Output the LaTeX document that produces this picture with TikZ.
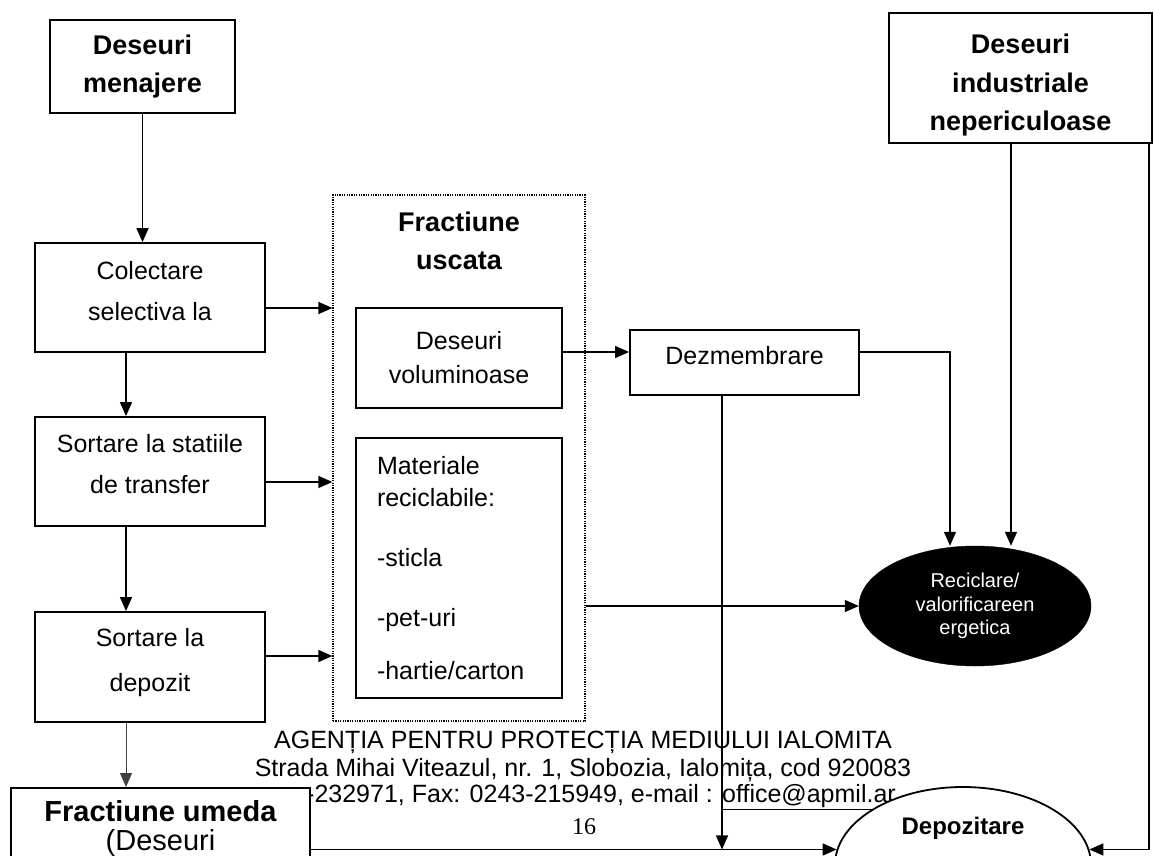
\documentclass[tikz,border=0pt]{standalone}
\usepackage{fontspec}
\setmainfont{Liberation Sans}
\newfontfamily\serifpg{Liberation Serif}
\usetikzlibrary{arrows.meta,shapes.geometric,calc}
\newcommand\lowstrut[1]{\rule[-#1]{0pt}{#1}}
\begin{document}
\begin{tikzpicture}[x=1pt,y=-1pt,
  box/.style={draw, line width=1.8pt, fill=white, align=center, inner sep=0pt, font=\fontsize{25}{41}\selectfont},
  tbox/.style={draw, line width=1.8pt, fill=white, align=center, inner sep=0pt, font=\bfseries\fontsize{27}{38}\selectfont},
  arr/.style={line width=1.5pt, -{Triangle[length=14pt,width=12pt]}},
  foot/.style={inner sep=0pt, font=\fontsize{25}{28}\selectfont},
]
\useasboundingbox[fill=white] (0,0) rectangle (1154,856);

% footer text (lies under the shapes)
\node[foot] (ft1) at (583,742) {AGENȚIA PENTRU PROTECȚIA MEDIULUI IALOMITA};
\node[foot] (ft2) at (583,770) {Strada Mihai Viteazul, nr. 1, Slobozia, Ialomița, cod 920083};
\node[foot, anchor=west] (ft3) at (306,797) {-232971, Fax: 0243-215949, e-mail : \underline{office@apmil.ar}};
\node[inner sep=0pt, font=\serifpg\fontsize{24}{24}\selectfont] (pg) at (584,827) {16};

% left column
\node[tbox, minimum width=185pt, minimum height=93pt] (dm) at (142.5,66.5) {Deseuri\\menajere};
\node[box, minimum width=230pt, minimum height=109pt] (col) at (150,297.5) {Colectare\\selectiva la\lowstrut{14pt}};
\node[box, minimum width=230pt, minimum height=109pt] (sst) at (150,471.5) {Sortare la statiile\\de transfer\lowstrut{15pt}};
\node[box, minimum width=230pt, minimum height=110pt, font=\fontsize{25}{45}\selectfont] (sdp) at (150,667) {Sortare la\\depozit\lowstrut{15pt}};
\node[draw, line width=1.8pt, fill=white, align=center, inner xsep=0pt, inner ysep=13pt,
      minimum width=299pt, anchor=north, font=\fontsize{29}{29}\selectfont] (fu) at (160.5,787)
      {\textbf{Fractiune umeda}\\(Deseuri};

% dry fraction group
\node[draw, line width=1.2pt, dash pattern=on 1.2pt off 1.2pt, minimum width=252pt, minimum height=526pt, inner sep=0pt] (usc) at (459,458) {};
\node[inner sep=0pt, align=center, font=\bfseries\fontsize{27}{38}\selectfont] (uscT) at (459,241) {Fractiune\\uscata};
\node[box, minimum width=206pt, minimum height=100pt, font=\fontsize{25}{34}\selectfont] (vol) at (459,358) {Deseuri\\voluminoase};
\node[draw, line width=1.8pt, fill=white, inner sep=0pt, minimum width=206pt, minimum height=260pt,
      text width=164pt, align=left, font=\fontsize{25}{32}\selectfont] (mat) at (459,568)
      {Materiale\\reciclabile:\\[28pt]-sticla\\[28pt]-pet-uri\\[21pt]-hartie/carton};

% right part
\node[box, minimum width=229pt, minimum height=65pt] (dez) at (744.5,362.5) {Dezmembrare\lowstrut{15pt}};
\node[tbox, minimum width=263pt, minimum height=130pt, font=\bfseries\fontsize{27}{38.5}\selectfont] (ind) at (1020.5,78) {\rule{0pt}{34pt}Deseuri\\industriale\\nepericuloase};
\node[ellipse, fill=black, draw=black, inner sep=0pt, minimum width=232pt, minimum height=120pt,
      align=center, text=white, font=\fontsize{20}{23.5}\selectfont] (rec) at (975,606)
      {Reciclare/\\valorificareen\\ergetica};
\node[ellipse, draw, line width=1.8pt, fill=white, inner sep=0pt, minimum width=256pt, minimum height=156pt] (dep) at (963,865) {};
\node[inner sep=0pt, font=\bfseries\fontsize{24}{24}\selectfont] (depT) at (963,828) {Depozitare};

% connectors
\draw[arr] (dm.south) -- (dm.south |- col.north);
\draw[arr] ([yshift=-10.5pt]col.east) -- ([yshift=-10.5pt]col.east -| usc.west);
\draw[arr] ([xshift=-24pt]col.south) -- ([xshift=-24pt]col.south |- sst.north);
\draw[arr] ([yshift=-10.5pt]sst.east) -- ([yshift=-10.5pt]sst.east -| usc.west);
\draw[arr] ([xshift=-24pt]sst.south) -- ([xshift=-24pt]sst.south |- sdp.north);
\draw[arr] ([yshift=11pt]sdp.east) -- ([yshift=11pt]sdp.east -| usc.west);
\draw[arr, line width=1pt, draw=black!75] ([xshift=-24pt]sdp.south) -- ([xshift=-24pt]sdp.south |- fu.north);
\draw[arr] ([yshift=6pt]vol.east) -- ([yshift=6pt]vol.east -| dez.west);
\draw[arr] ([yshift=10.5pt]dez.east) -| ([xshift=-25pt]rec.north);
\draw[arr] ([xshift=-9.5pt]ind.south) -- ([xshift=-9.5pt]ind.south |- rec.north);
\draw[arr] (usc.east |- rec.west) -- (rec.west);
\draw[arr] (fu.east |- dep.173) -- (dep.173);
\draw[arr] ([xshift=-22.5pt]dez.south) -- ([xshift=-22.5pt]dez.south |- dep.173);
\draw[arr] ([xshift=-4pt]ind.south east) |- (dep.7);
\end{tikzpicture}
\end{document}
